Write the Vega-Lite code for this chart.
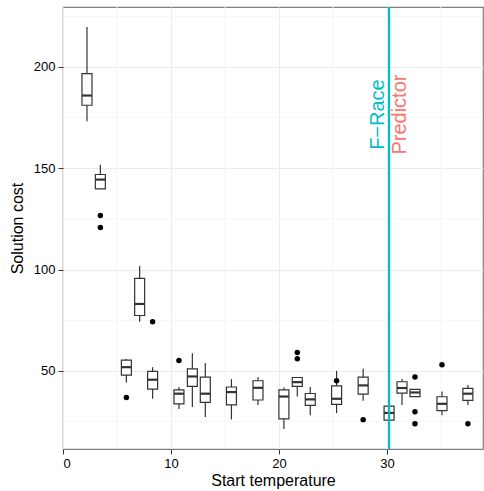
{
  "$schema": "https://vega.github.io/schema/vega-lite/v6.json",
  "width": 420,
  "height": 442,
  "autosize": "none",
  "padding": {"left": 63, "top": 7, "right": 1, "bottom": 42},
  "background": "white",
  "config": {
    "font": "Liberation Sans",
    "view": {"stroke": "#7f7f7f", "strokeWidth": 1.2},
    "scale": {"continuousPadding": 0},
    "axis": {
      "domain": false,
      "grid": true,
      "gridColor": "#ebebeb",
      "gridWidth": 1,
      "tickColor": "#333333",
      "tickSize": 5,
      "labelFont": "Liberation Sans",
      "labelFontSize": 13,
      "labelColor": "#000000",
      "titleFont": "Liberation Sans",
      "titleFontSize": 16,
      "titleFontWeight": "normal",
      "titleColor": "#000000"
    }
  },
  "datasets": {
    "boxes": [
      {"temp": 2.22, "lo": 173.2, "q1": 181.1, "med": 185.9, "q3": 196.7, "hi": 219.7},
      {"temp": 3.46, "lo": 139.8, "q1": 139.8, "med": 144.4, "q3": 146.9, "hi": 151.7},
      {"temp": 5.87, "lo": 44.2, "q1": 47.9, "med": 51.8, "q3": 55.3, "hi": 55.8},
      {"temp": 7.1, "lo": 74.2, "q1": 77.3, "med": 83.0, "q3": 95.6, "hi": 101.8},
      {"temp": 8.3, "lo": 36.2, "q1": 41.0, "med": 45.6, "q3": 49.7, "hi": 51.8},
      {"temp": 10.74, "lo": 31.1, "q1": 33.7, "med": 38.7, "q3": 40.6, "hi": 42.0},
      {"temp": 11.98, "lo": 32.1, "q1": 42.3, "med": 47.2, "q3": 51.0, "hi": 58.7},
      {"temp": 13.18, "lo": 27.2, "q1": 34.4, "med": 38.7, "q3": 46.9, "hi": 53.8},
      {"temp": 15.6, "lo": 26.0, "q1": 33.2, "med": 39.5, "q3": 42.0, "hi": 45.9},
      {"temp": 18.06, "lo": 33.1, "q1": 35.6, "med": 41.6, "q3": 45.1, "hi": 46.9},
      {"temp": 20.46, "lo": 21.3, "q1": 26.3, "med": 37.3, "q3": 40.6, "hi": 41.8},
      {"temp": 21.7, "lo": 37.3, "q1": 42.3, "med": 44.4, "q3": 46.7, "hi": 46.7},
      {"temp": 22.9, "lo": 28.1, "q1": 32.9, "med": 35.9, "q3": 38.8, "hi": 42.0},
      {"temp": 25.34, "lo": 29.1, "q1": 33.4, "med": 36.2, "q3": 42.6, "hi": 50.0},
      {"temp": 27.8, "lo": 35.2, "q1": 38.5, "med": 42.8, "q3": 46.9, "hi": 51.0},
      {"temp": 30.2, "lo": 25.7, "q1": 25.7, "med": 29.2, "q3": 32.6, "hi": 32.6},
      {"temp": 31.4, "lo": 33.1, "q1": 39.0, "med": 41.5, "q3": 44.6, "hi": 45.9},
      {"temp": 32.6, "lo": 37.3, "q1": 37.3, "med": 39.3, "q3": 40.8, "hi": 40.8},
      {"temp": 35.1, "lo": 28.0, "q1": 30.3, "med": 33.7, "q3": 37.2, "hi": 39.8},
      {"temp": 37.5, "lo": 33.1, "q1": 35.4, "med": 38.7, "q3": 41.3, "hi": 43.0}
    ],
    "outliers": [
      {"temp": 3.46, "cost": 126.7},
      {"temp": 3.46, "cost": 120.8},
      {"temp": 8.3, "cost": 74.2},
      {"temp": 5.87, "cost": 36.8},
      {"temp": 10.74, "cost": 55.1},
      {"temp": 21.7, "cost": 59.0},
      {"temp": 21.7, "cost": 55.9},
      {"temp": 25.34, "cost": 45.1},
      {"temp": 27.8, "cost": 25.9},
      {"temp": 32.6, "cost": 47.0},
      {"temp": 32.6, "cost": 29.8},
      {"temp": 32.6, "cost": 23.9},
      {"temp": 35.1, "cost": 53.0},
      {"temp": 37.5, "cost": 23.9}
    ],
    "minorx": [{"v": 5}, {"v": 15}, {"v": 25}, {"v": 35}],
    "minory": [{"v": 25}, {"v": 75}, {"v": 125}, {"v": 175}, {"v": 225}],
    "lines": [{"temp": 30.2, "method": "F−Race"}],
    "labels": [
      {"temp": 29.14, "cost": 176.5, "label": "F−Race", "method": "F−Race"},
      {"temp": 31.18, "cost": 176.5, "label": "Predictor", "method": "Predictor"}
    ]
  },
  "layer": [
    {
      "data": {"name": "minorx"},
      "mark": {"type": "rule", "color": "#f5f5f5", "strokeWidth": 1},
      "encoding": {
        "x": {"field": "v", "type": "quantitative", "scale": {"domain": [0, 38.9], "nice": false, "zero": false, "padding": 0}, "axis": {"title": "Start temperature", "values": [0, 10, 20, 30], "format": "d", "labelPadding": 3, "titlePadding": 2}}
      }
    },
    {
      "data": {"name": "minory"},
      "mark": {"type": "rule", "color": "#f5f5f5", "strokeWidth": 1},
      "encoding": {
        "y": {"field": "v", "type": "quantitative", "scale": {"domain": [11.4, 229.6], "nice": false, "zero": false, "padding": 0}, "axis": {"title": "Solution cost", "values": [50, 100, 150, 200], "format": "d", "labelPadding": 3, "titlePadding": 8}}
      }
    },
    {
      "data": {"name": "boxes"},
      "mark": {"type": "rule", "color": "#333333", "strokeWidth": 1.2},
      "encoding": {
        "x": {"field": "temp", "type": "quantitative"},
        "y": {"field": "lo", "type": "quantitative"},
        "y2": {"field": "hi"}
      }
    },
    {
      "data": {"name": "boxes"},
      "mark": {"type": "bar", "width": 10, "fill": "white", "stroke": "#333333", "strokeWidth": 1.2},
      "encoding": {
        "x": {"field": "temp", "type": "quantitative"},
        "y": {"field": "q1", "type": "quantitative"},
        "y2": {"field": "q3"}
      }
    },
    {
      "data": {"name": "boxes"},
      "mark": {"type": "tick", "orient": "horizontal", "size": 10, "thickness": 2.2, "color": "#333333", "opacity": 1},
      "encoding": {
        "x": {"field": "temp", "type": "quantitative"},
        "y": {"field": "med", "type": "quantitative"}
      }
    },
    {
      "data": {"name": "outliers"},
      "mark": {"type": "circle", "size": 30, "color": "#000000", "opacity": 1},
      "encoding": {
        "x": {"field": "temp", "type": "quantitative"},
        "y": {"field": "cost", "type": "quantitative"}
      }
    },
    {
      "data": {"name": "lines"},
      "mark": {"type": "rule", "strokeWidth": 2.2, "color": "#00BFC4"},
      "encoding": {
        "x": {"field": "temp", "type": "quantitative"}
      }
    },
    {
      "data": {"name": "labels"},
      "mark": {"type": "text", "angle": 270, "fontSize": 20, "align": "center", "baseline": "middle", "font": "Liberation Sans"},
      "encoding": {
        "x": {"field": "temp", "type": "quantitative"},
        "y": {"field": "cost", "type": "quantitative"},
        "text": {"field": "label"},
        "color": {"field": "method", "type": "nominal", "scale": {"domain": ["F−Race", "Predictor"], "range": ["#00BFC4", "#F8766D"]}, "legend": null}
      }
    }
  ]
}
